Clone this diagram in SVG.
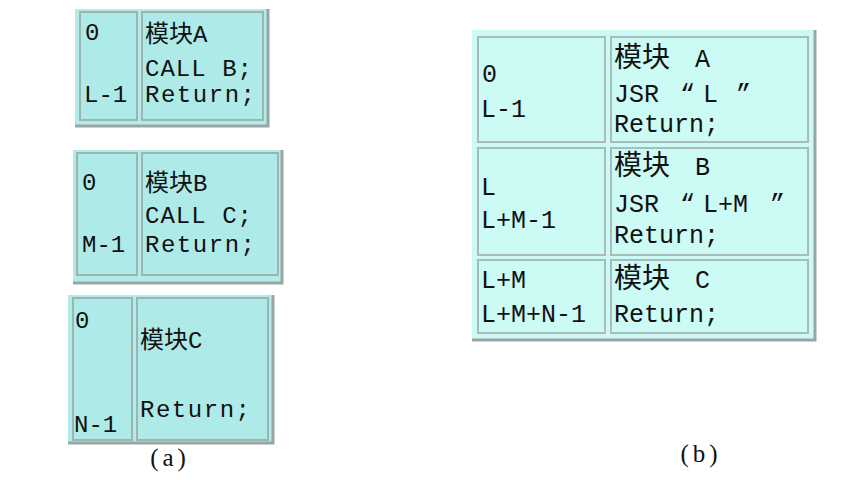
<svg xmlns="http://www.w3.org/2000/svg" width="849" height="483" viewBox="0 0 849 483">
<style>
.bgA{fill:#b2ecea}
.cellA{fill:#aeeae7;stroke:#9cb4b2;stroke-width:2}
.bgB{fill:#cdfaf6}
.cellB{fill:#ccfaf5;stroke:#a8bcba;stroke-width:2}
.shadow{stroke:#9aa6a6;stroke-width:3;fill:none}
.t{font-family:"Liberation Mono","Noto Sans CJK SC",monospace;font-size:24px;fill:#111}
.tb{font-family:"Liberation Mono","Noto Sans CJK SC",monospace;font-size:25px;fill:#111}
.cj{font-family:"Noto Sans CJK SC",sans-serif;font-size:28px;fill:#111}
.cap{font-family:"Liberation Serif",serif;font-size:25px;fill:#111;letter-spacing:4px}
</style>
<rect width="849" height="483" fill="#ffffff"/>

<g id="tableA1">
<rect class="bgA" x="75" y="9" width="193" height="116"/>
<path class="shadow" d="M268 9V126H75"/>
<rect class="cellA" x="80" y="12" width="57" height="108"/>
<rect class="cellA" x="142" y="12" width="121" height="108"/>
<text class="t" x="85" y="40">0</text>
<text class="t" x="84" y="102">L-1</text>
<text class="t" x="145" y="42">模块A</text>
<text class="t" x="145" y="76" textLength="107" lengthAdjust="spacing">CALL B;</text>
<text class="t" x="145" y="102" textLength="110" lengthAdjust="spacing">Return;</text>
</g>

<g id="tableA2">
<rect class="bgA" x="73" y="150" width="209" height="132"/>
<path class="shadow" d="M282 150V283H73"/>
<rect class="cellA" x="77" y="153" width="60" height="122"/>
<rect class="cellA" x="142" y="153" width="136" height="122"/>
<text class="t" x="82" y="190">0</text>
<text class="t" x="82" y="252">M-1</text>
<text class="t" x="145" y="191">模块B</text>
<text class="t" x="145" y="223" textLength="107" lengthAdjust="spacing">CALL C;</text>
<text class="t" x="145" y="252" textLength="110" lengthAdjust="spacing">Return;</text>
</g>

<g id="tableA3">
<rect class="bgA" x="68" y="295" width="205" height="147"/>
<path class="shadow" d="M273 295V443H68"/>
<rect class="cellA" x="73" y="298" width="59" height="142"/>
<rect class="cellA" x="137" y="298" width="131" height="142"/>
<text class="t" x="75" y="328">0</text>
<text class="t" x="74" y="432">N-1</text>
<text class="t" x="140" y="348">模块C</text>
<text class="t" x="140" y="417" textLength="110" lengthAdjust="spacing">Return;</text>
<text class="cap" x="170" y="466" text-anchor="middle">(a)</text>
</g>

<g id="tableB">
<rect class="bgB" x="472" y="30" width="343" height="310"/>
<path class="shadow" d="M815 30V340H472"/>
<rect class="cellB" x="478" y="37" width="127" height="105"/>
<rect class="cellB" x="611" y="37" width="197" height="105"/>
<rect class="cellB" x="478" y="148" width="127" height="107"/>
<rect class="cellB" x="611" y="148" width="197" height="107"/>
<rect class="cellB" x="478" y="260" width="127" height="73"/>
<rect class="cellB" x="611" y="260" width="197" height="73"/>
<text class="tb" x="482" y="82">0</text>
<text class="tb" x="481" y="117">L-1</text>
<text class="cj" x="614" y="67">模块</text>
<text class="tb" x="695" y="67">A</text>
<text class="tb" x="614" y="102">JSR<tspan x="680">“</tspan><tspan x="703">L</tspan><tspan x="736">”</tspan></text>
<text class="tb" x="614" y="132">Return;</text>
<text class="tb" x="481" y="195">L</text>
<text class="tb" x="481" y="228">L+M-1</text>
<text class="cj" x="614" y="175">模块</text>
<text class="tb" x="695" y="175">B</text>
<text class="tb" x="614" y="212">JSR<tspan x="680">“</tspan><tspan x="703">L+M</tspan><tspan x="770">”</tspan></text>
<text class="tb" x="614" y="243">Return;</text>
<text class="tb" x="481" y="288">L+M</text>
<text class="tb" x="481" y="322">L+M+N-1</text>
<text class="cj" x="614" y="288">模块</text>
<text class="tb" x="695" y="288">C</text>
<text class="tb" x="614" y="322">Return;</text>
<text class="cap" x="701" y="462" text-anchor="middle">(b)</text>
</g>
</svg>
